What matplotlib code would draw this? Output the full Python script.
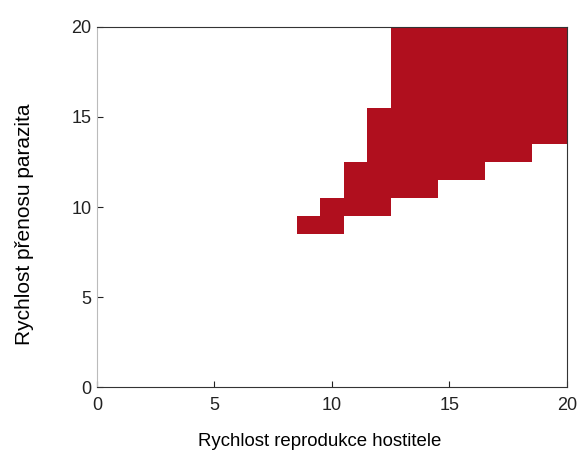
import numpy as np
import matplotlib.pyplot as plt
from matplotlib.colors import ListedColormap

plt.rcParams['font.family'] = ['Liberation Sans', 'DejaVu Sans']

# host reproduction rate (x) / parasite transmission rate (y), integer grid 0..20
rows_y = [9, 10, 11, 12, 13, 14, 15, 16, 17, 18, 19, 20]
row_start = [9, 10, 11, 11, 12, 12, 12, 13, 13, 13, 13, 13]
row_end = [10, 12, 14, 16, 18, 20, 20, 20, 20, 20, 20, 20]

grid = np.zeros((21, 21))
for y, a, b in zip(rows_y, row_start, row_end):
    grid[y, a:b + 1] = 1
grid = np.ma.masked_equal(grid, 0)

edges = np.arange(-0.5, 21.0, 1.0)

fig = plt.figure(figsize=(5.79, 4.57), dpi=100)
ax = fig.add_axes([0.1675, 0.153, 0.8115, 0.788])
ax.pcolormesh(edges, edges, grid, cmap=ListedColormap(['#B00F1E']), vmin=0, vmax=1)

ax.set_xlim(0, 20)
ax.set_ylim(0, 20)
ax.set_xticks([0, 5, 10, 15, 20])
ax.set_yticks([0, 5, 10, 15, 20])
ax.tick_params(direction='in', length=4, width=0.8, labelsize=13, colors='#222222')
ax.tick_params(axis='x', pad=7)
ax.tick_params(axis='y', pad=4)
for s in ['top', 'right', 'bottom']:
    ax.spines[s].set_color('#333333')
ax.spines['left'].set_color('#bbbbbb')

ax.set_xlabel('Rychlost reprodukce hostitele', fontsize=13.4)
ax.set_ylabel('Rychlost přenosu parazita', fontsize=15)
ax.xaxis.set_label_coords(0.473, -0.128)
ax.yaxis.set_label_coords(-0.134, 0.453)

fig.savefig('out.png', dpi=100)
